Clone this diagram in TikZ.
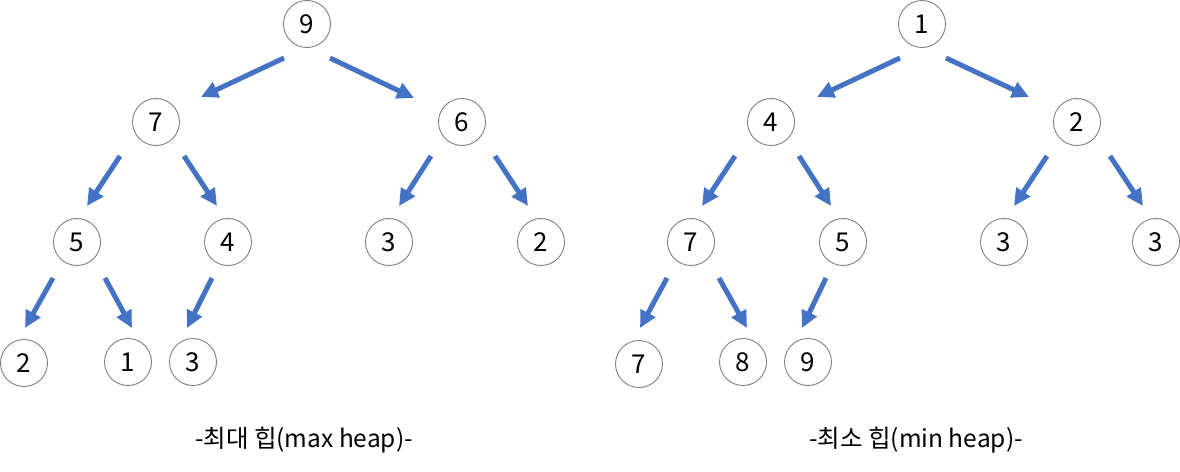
\documentclass[tikz,border=0pt]{standalone}
\usepackage{fontspec}
\setmainfont{Noto Sans CJK KR}
\usetikzlibrary{arrows.meta}
\definecolor{arrblue}{HTML}{4472C4}
\definecolor{ringgray}{HTML}{7F7F7F}
\newcommand\heaparrow[6]{\draw[arr] ([shift={(#2,#3)}]#1.center) -- ([shift={(#5,#6)}]#4.center);}
\begin{document}
\begin{tikzpicture}[x=1pt,y=-1pt,
  hnode/.style={circle,draw=ringgray,line width=0.9pt,minimum size=47pt,inner sep=0pt,
    font=\fontsize{26}{28}\selectfont},
  arr/.style={draw=arrblue,line width=5pt,-{Triangle[length=17pt,width=16pt]}},
  captext/.style={font=\fontsize{24.5}{28}\selectfont}]
\useasboundingbox (0,0) rectangle (1180,471);
% max heap
\node[hnode] (a9) at (307,24) {9};
\node[hnode] (a7) at (156,122) {7};
\node[hnode] (a6) at (462,122) {6};
\node[hnode] (a5) at (77,242) {5};
\node[hnode] (a4) at (228,242) {4};
\node[hnode] (a3) at (389,242) {3};
\node[hnode] (a2) at (541,242) {2};
\node[hnode] (a2b) at (24,363) {2};
\node[hnode] (a1) at (128,362) {1};
\node[hnode] (a3b) at (193,362) {3};
\heaparrow{a9}{-23}{34}{a7}{45}{-25}
\heaparrow{a9}{23}{34}{a6}{-48}{-24}
\heaparrow{a7}{-36}{34}{a5}{10}{-36}
\heaparrow{a7}{28}{34}{a4}{-11}{-36}
\heaparrow{a6}{-31}{34}{a3}{10}{-36}
\heaparrow{a6}{33}{34}{a2}{-13}{-36}
\heaparrow{a5}{-24}{36}{a2b}{1}{-35}
\heaparrow{a5}{28}{36}{a1}{4}{-34}
\heaparrow{a4}{-16}{36}{a3b}{-6}{-34}
\node[captext] (capa) at (304,440) {-최대 힙(max heap)-};
% min heap
\node[hnode] (b1) at (922,24) {1};
\node[hnode] (b4) at (771,122) {4};
\node[hnode] (b2) at (1077,122) {2};
\node[hnode] (b7) at (691,242) {7};
\node[hnode] (b5) at (843,242) {5};
\node[hnode] (b3) at (1004,242) {3};
\node[hnode] (b3r) at (1156,242) {3};
\node[hnode] (b7b) at (639,364) {7};
\node[hnode] (b8) at (743,362) {8};
\node[hnode] (b9) at (808,362) {9};
\heaparrow{b1}{-22}{34}{b4}{46}{-25}
\heaparrow{b1}{24}{34}{b2}{-48}{-25}
\heaparrow{b4}{-36}{34}{b7}{11}{-36}
\heaparrow{b4}{28}{34}{b5}{-12}{-36}
\heaparrow{b2}{-30}{34}{b3}{10}{-36}
\heaparrow{b2}{33}{34}{b3r}{-13}{-36}
\heaparrow{b7}{-24}{36}{b7b}{1}{-36}
\heaparrow{b7}{28}{36}{b8}{4}{-34}
\heaparrow{b5}{-17}{36}{b9}{-6}{-34}
\node[captext] (capb) at (916,440) {-최소 힙(min heap)-};
\end{tikzpicture}
\end{document}
